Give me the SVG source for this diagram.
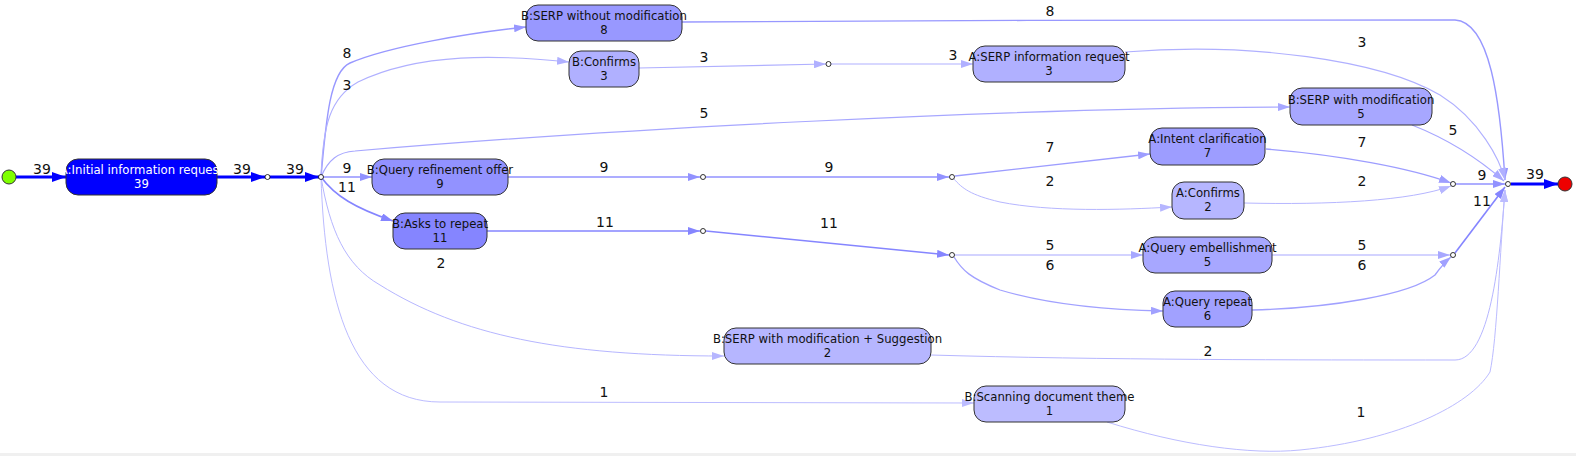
<svg xmlns="http://www.w3.org/2000/svg" width="1576" height="456" viewBox="0 0 1576 456">
<style>
.n rect{stroke:#333;stroke-width:1}
.n text{font-family:"DejaVu Sans",Verdana,sans-serif;font-size:11.7px;fill:#111;text-anchor:middle}
.lbl{font-family:"DejaVu Sans",Verdana,sans-serif;font-size:14px;fill:#111;text-anchor:middle}
.e{fill:none}
.c39{stroke:#0000ff;stroke-width:3}
.c11{stroke:#8585ff;stroke-width:1.6}
.c9{stroke:#9292ff;stroke-width:1.5}
.c8{stroke:#9898ff;stroke-width:1.4}
.c7{stroke:#9d9dff;stroke-width:1.3}
.c6{stroke:#a1a1ff;stroke-width:1.3}
.c5{stroke:#a7a7ff;stroke-width:1.2}
.c3{stroke:#b0b0ff;stroke-width:1.1}
.c2{stroke:#b6b6ff;stroke-width:1}
.c1{stroke:#bcbcff;stroke-width:1}
.pt{fill:#fff;stroke:#000;stroke-width:0.8}
</style>
<defs>
<marker id="m39" markerUnits="userSpaceOnUse" markerWidth="14" markerHeight="10" refX="14" refY="5" orient="auto"><path d="M0,0 L14,5 L0,10 z" fill="#0000ff"/></marker>
<marker id="m11" markerUnits="userSpaceOnUse" markerWidth="12" markerHeight="8" refX="12" refY="4" orient="auto"><path d="M0,0 L12,4 L0,8 z" fill="#8585ff"/></marker>
<marker id="m9" markerUnits="userSpaceOnUse" markerWidth="12" markerHeight="8" refX="12" refY="4" orient="auto"><path d="M0,0 L12,4 L0,8 z" fill="#9292ff"/></marker>
<marker id="m8" markerUnits="userSpaceOnUse" markerWidth="12" markerHeight="8" refX="12" refY="4" orient="auto"><path d="M0,0 L12,4 L0,8 z" fill="#9898ff"/></marker>
<marker id="m7" markerUnits="userSpaceOnUse" markerWidth="12" markerHeight="8" refX="12" refY="4" orient="auto"><path d="M0,0 L12,4 L0,8 z" fill="#9d9dff"/></marker>
<marker id="m6" markerUnits="userSpaceOnUse" markerWidth="12" markerHeight="8" refX="12" refY="4" orient="auto"><path d="M0,0 L12,4 L0,8 z" fill="#a1a1ff"/></marker>
<marker id="m5" markerUnits="userSpaceOnUse" markerWidth="12" markerHeight="8" refX="12" refY="4" orient="auto"><path d="M0,0 L12,4 L0,8 z" fill="#a7a7ff"/></marker>
<marker id="m3" markerUnits="userSpaceOnUse" markerWidth="12" markerHeight="8" refX="12" refY="4" orient="auto"><path d="M0,0 L12,4 L0,8 z" fill="#b0b0ff"/></marker>
<marker id="m2" markerUnits="userSpaceOnUse" markerWidth="12" markerHeight="8" refX="12" refY="4" orient="auto"><path d="M0,0 L12,4 L0,8 z" fill="#b6b6ff"/></marker>
<marker id="m1" markerUnits="userSpaceOnUse" markerWidth="12" markerHeight="8" refX="12" refY="4" orient="auto"><path d="M0,0 L12,4 L0,8 z" fill="#bcbcff"/></marker>
</defs>
<rect x="0" y="0" width="1576" height="456" fill="#fff"/>
<rect x="0" y="453" width="1576" height="3" fill="#f0f0f0"/>

<g id="connectors">
<path class="e c39" d="M16,177 L66,177" marker-end="url(#m39)"/>
<text class="lbl" x="42" y="174">39</text>
<path class="e c39" d="M217,177 L265,177" marker-end="url(#m39)"/>
<text class="lbl" x="242" y="174">39</text>
<path class="e c39" d="M270,177 L319,177" marker-end="url(#m39)"/>
<text class="lbl" x="295" y="174">39</text>

<path class="e c8" d="M321,177 C326,120 330,72 350,63 C390,46 470,33 526,27" marker-end="url(#m8)"/>
<text class="lbl" x="347" y="58">8</text>
<path class="e c3" d="M321,177 C323,125 330,98 358,82 C420,52 500,55 569,62" marker-end="url(#m3)"/>
<text class="lbl" x="347" y="90">3</text>
<path class="e c5" d="M321,177 C328,160 338,152 355,151 C600,130 1000,108 1290,107" marker-end="url(#m5)"/>
<text class="lbl" x="704" y="118">5</text>
<path class="e c9" d="M323,177 L372,177" marker-end="url(#m9)"/>
<text class="lbl" x="347" y="173">9</text>
<path class="e c11" d="M321,177 C335,196 355,208 393,221" marker-end="url(#m11)"/>
<text class="lbl" x="347" y="192">11</text>
<path class="e c2" d="M321,177 C330,230 345,265 380,285 C460,335 560,356 724,356" marker-end="url(#m2)"/>
<text class="lbl" x="441" y="268">2</text>
<path class="e c1" d="M321,177 C325,300 350,402 440,402 L974,403" marker-end="url(#m1)"/>
<text class="lbl" x="604" y="397">1</text>

<path class="e c8" d="M682,22 C900,20 1300,20 1455,20 C1490,22 1500,100 1505,180" marker-end="url(#m8)"/>
<text class="lbl" x="1050" y="16">8</text>
<path class="e c3" d="M639,68 L826,64" marker-end="url(#m3)"/>
<text class="lbl" x="704" y="62">3</text>
<path class="e c3" d="M831,64 L973,64" marker-end="url(#m3)"/>
<text class="lbl" x="953" y="60">3</text>
<path class="e c3" d="M1125,52 C1250,42 1380,60 1440,95 C1480,120 1500,160 1505,180" marker-end="url(#m3)"/>
<text class="lbl" x="1362" y="47">3</text>
<path class="e c5" d="M1412,125 C1450,140 1480,160 1504,181" marker-end="url(#m5)"/>
<text class="lbl" x="1453" y="135">5</text>

<path class="e c9" d="M508,177 L700,177" marker-end="url(#m9)"/>
<text class="lbl" x="604" y="172">9</text>
<path class="e c9" d="M706,177 L949,177" marker-end="url(#m9)"/>
<text class="lbl" x="829" y="172">9</text>
<path class="e c7" d="M955,176 L1150,154" marker-end="url(#m7)"/>
<text class="lbl" x="1050" y="152">7</text>
<path class="e c2" d="M954,179 C962,188 970,195 1000,202 C1050,212 1120,210 1172,207" marker-end="url(#m2)"/>
<text class="lbl" x="1050" y="186">2</text>
<path class="e c7" d="M1266,149 C1340,155 1410,168 1451,183" marker-end="url(#m7)"/>
<text class="lbl" x="1362" y="147">7</text>
<path class="e c2" d="M1244,203 C1330,205 1410,201 1451,186" marker-end="url(#m2)"/>
<text class="lbl" x="1362" y="186">2</text>
<path class="e c9" d="M1456,184 L1505,184" marker-end="url(#m9)"/>
<text class="lbl" x="1482" y="180">9</text>

<path class="e c11" d="M487,231 L700,231" marker-end="url(#m11)"/>
<text class="lbl" x="605" y="227">11</text>
<path class="e c11" d="M706,231 L949,255" marker-end="url(#m11)"/>
<text class="lbl" x="829" y="228">11</text>
<path class="e c5" d="M955,255 L1143,255" marker-end="url(#m5)"/>
<text class="lbl" x="1050" y="250">5</text>
<path class="e c6" d="M954,257 C962,270 970,278 1000,290 C1050,305 1110,310 1163,311" marker-end="url(#m6)"/>
<text class="lbl" x="1050" y="270">6</text>
<path class="e c5" d="M1272,255 L1450,255" marker-end="url(#m5)"/>
<text class="lbl" x="1362" y="250">5</text>
<path class="e c6" d="M1252,310 C1330,308 1410,295 1435,275 C1440,268 1445,262 1451,257" marker-end="url(#m6)"/>
<text class="lbl" x="1362" y="270">6</text>
<path class="e c11" d="M1455,253 L1505,187" marker-end="url(#m11)"/>
<text class="lbl" x="1482" y="206">11</text>

<path class="e c2" d="M931,355 C1100,360 1300,360 1455,360 C1490,360 1500,260 1505,190" marker-end="url(#m2)"/>
<text class="lbl" x="1208" y="356">2</text>
<path class="e c1" d="M1107,422 C1180,445 1250,455 1300,450 C1400,440 1470,405 1490,372 C1497,340 1500,250 1505,190" marker-end="url(#m1)"/>
<text class="lbl" x="1361" y="417">1</text>

<path class="e c39" d="M1511,184 L1558,184" marker-end="url(#m39)"/>
<text class="lbl" x="1535" y="179">39</text>
</g>

<g id="start"><circle cx="9" cy="177" r="7" fill="#7fff00" stroke="#333" stroke-width="1"/></g>
<g id="end"><circle cx="1565" cy="184" r="7" fill="#ee0000" stroke="#333" stroke-width="1"/></g>

<g id="p1"><circle class="pt" cx="267.5" cy="177" r="2.5"/></g>
<g id="p2"><circle class="pt" cx="321" cy="177" r="2.5"/></g>
<g id="p3"><circle class="pt" cx="828.5" cy="64" r="2.5"/></g>
<g id="p4"><circle class="pt" cx="703" cy="177" r="2.5"/></g>
<g id="p5"><circle class="pt" cx="952" cy="177" r="2.5"/></g>
<g id="p6"><circle class="pt" cx="1453" cy="184" r="2.5"/></g>
<g id="p7"><circle class="pt" cx="703" cy="231" r="2.5"/></g>
<g id="p8"><circle class="pt" cx="952" cy="255" r="2.5"/></g>
<g id="p9"><circle class="pt" cx="1453" cy="255" r="2.5"/></g>
<g id="pf"><circle class="pt" cx="1508" cy="184" r="2.5"/></g>

<g id="initial" class="n"><rect x="66" y="159" width="151" height="36" rx="12" fill="#0000ff"/><text x="141.5" y="174" style="fill:#fff">A:Initial information request</text><text x="141.5" y="188" style="fill:#fff">39</text></g>
<g id="b-serp-without" class="n"><rect x="526" y="5" width="156" height="36" rx="12" fill="#9898ff"/><text x="604" y="20">B:SERP without modification</text><text x="604" y="34">8</text></g>
<g id="b-confirms" class="n"><rect x="569" y="51" width="70" height="36" rx="12" fill="#b0b0ff"/><text x="604" y="66">B:Confirms</text><text x="604" y="80">3</text></g>
<g id="a-serp-info" class="n"><rect x="973" y="46" width="152" height="36" rx="12" fill="#b0b0ff"/><text x="1049" y="61">A:SERP information request</text><text x="1049" y="75">3</text></g>
<g id="b-serp-with" class="n"><rect x="1290" y="88" width="142" height="37" rx="12" fill="#a7a7ff"/><text x="1361" y="104">B:SERP with modification</text><text x="1361" y="118">5</text></g>
<g id="b-query-refine" class="n"><rect x="372" y="159" width="136" height="36" rx="12" fill="#9292ff"/><text x="440" y="174">B:Query refinement offer</text><text x="440" y="188">9</text></g>
<g id="b-asks-repeat" class="n"><rect x="393" y="213" width="94" height="36" rx="12" fill="#8585ff"/><text x="440" y="228">B:Asks to repeat</text><text x="440" y="242">11</text></g>
<g id="a-intent" class="n"><rect x="1150" y="128" width="115" height="37" rx="12" fill="#9d9dff"/><text x="1207.5" y="143">A:Intent clarification</text><text x="1207.5" y="157">7</text></g>
<g id="a-confirms" class="n"><rect x="1172" y="182" width="72" height="37" rx="12" fill="#b6b6ff"/><text x="1208" y="197">A:Confirms</text><text x="1208" y="211">2</text></g>
<g id="a-query-emb" class="n"><rect x="1143" y="237" width="129" height="36" rx="12" fill="#a7a7ff"/><text x="1207.5" y="252">A:Query embellishment</text><text x="1207.5" y="266">5</text></g>
<g id="a-query-repeat" class="n"><rect x="1163" y="291" width="89" height="36" rx="12" fill="#a1a1ff"/><text x="1207.5" y="306">A:Query repeat</text><text x="1207.5" y="320">6</text></g>
<g id="b-serp-suggest" class="n"><rect x="724" y="328" width="207" height="36" rx="12" fill="#b6b6ff"/><text x="827.5" y="343">B:SERP with modification + Suggestion</text><text x="827.5" y="357">2</text></g>
<g id="b-scanning" class="n"><rect x="974" y="386" width="151" height="36" rx="12" fill="#bcbcff"/><text x="1049.5" y="401">B:Scanning document theme</text><text x="1049.5" y="415">1</text></g>
</svg>
